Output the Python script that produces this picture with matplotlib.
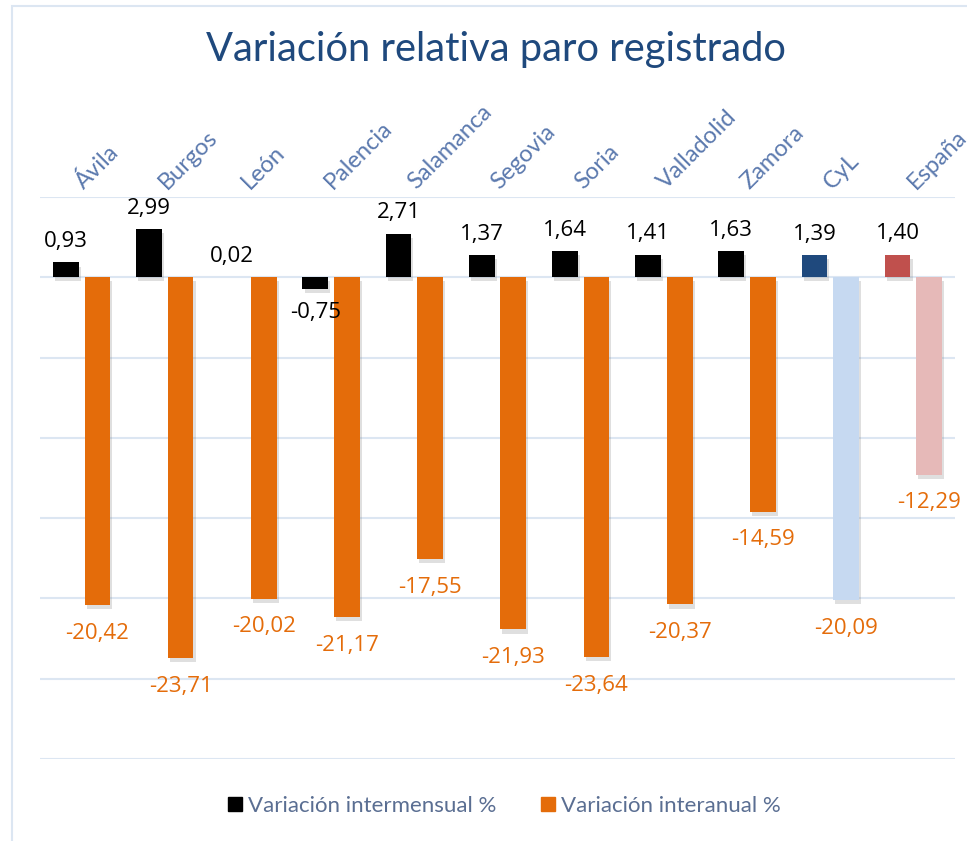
import matplotlib
matplotlib.use("Agg")
import matplotlib.pyplot as plt
import matplotlib.patheffects as pe
import numpy as np
from matplotlib.patches import Rectangle, Patch

# ---------------------------------------------------------------------------
# Data
# ---------------------------------------------------------------------------
categories = ["Ávila", "Burgos", "León", "Palencia", "Salamanca", "Segovia",
              "Soria", "Valladolid", "Zamora", "CyL", "España"]
intermensual = [0.93, 2.99, 0.02, -0.75, 2.71, 1.37, 1.64, 1.41, 1.63, 1.39, 1.40]
interanual = [-20.42, -23.71, -20.02, -21.17, -17.55, -21.93, -23.64,
              -20.37, -14.59, -20.09, -12.29]

# colours (CyL and España highlighted)
BLACK = "#000000"
ORANGE = "#E46C0A"
c_mes = [BLACK] * 9 + ["#1F497D", "#C0504D"]
c_anual = [ORANGE] * 9 + ["#C6D9F1", "#E6B9B8"]
TITLE_C = "#1F497D"
LABEL_C = "#5B79AE"
LEGEND_C = "#5A6E92"
GRID_C = "#DCE6F2"

plt.rcParams["font.family"] = ["Lato", "DejaVu Sans"]
NUM_FONT = ["Open Sans", "DejaVu Sans"]


def fmt(v):
    return f"{v:.2f}".replace(".", ",")


fig = plt.figure(figsize=(9.67, 8.41), dpi=100)
ax = fig.add_axes([40 / 967, 1 - 759 / 841, 915 / 967, (759 - 197) / 841])

x = np.arange(len(categories))
w = 0.31
off = 0.19
shadow = [pe.SimplePatchShadow(offset=(1.5, -3), alpha=0.22, shadow_rgbFace="#707070"),
          pe.Normal()]

b1 = ax.bar(x - off, intermensual, w, color=c_mes, zorder=3)
b2 = ax.bar(x + off, interanual, w, color=c_anual, zorder=3)
for b in list(b1) + list(b2):
    b.set_path_effects(shadow)

for xi, v in zip(x, intermensual):
    if v >= 0:
        ax.text(xi - off, v + 0.65, fmt(v), ha="center", va="bottom",
                fontsize=16, color="black", family=NUM_FONT)
    else:
        ax.text(xi - off, v - 0.8, fmt(v), ha="center", va="top",
                fontsize=16, color="black", family=NUM_FONT)

for xi, v in zip(x, interanual):
    ax.text(xi + off, v - 1.1, fmt(v), ha="center", va="top",
            fontsize=16, color=ORANGE, family=NUM_FONT)

ax.set_xlim(-0.5, len(categories) - 0.5)
ax.set_ylim(-30, 5)
ax.set_yticks(np.arange(-30, 6, 5))
ax.yaxis.grid(True, color=GRID_C, linewidth=1.5, zorder=0)
ax.tick_params(left=False, bottom=False, labelleft=False, labelbottom=False)
for s in ax.spines.values():
    s.set_visible(False)

# category labels along the top, rotated
for xi, name in zip(x, categories):
    ax.text(xi + 0.06, 1.008, name, transform=ax.get_xaxis_transform(),
            rotation=45, rotation_mode="anchor", ha="left", va="bottom",
            fontsize=17, color=LABEL_C)

fig.text(0.513, 1 - 50 / 841, "Variación relativa paro registrado",
         ha="center", va="center", fontsize=28.7, color=TITLE_C)

handles = [Patch(color=BLACK, label="Variación intermensual %"),
           Patch(color=ORANGE, label="Variación interanual %")]
fig.legend(handles=handles, loc="center", bbox_to_anchor=(0.522, 1 - 806 / 841),
           ncol=2, frameon=False, handlelength=0.6, handleheight=0.6,
           handletextpad=0.3, columnspacing=2.0, labelcolor=LEGEND_C,
           prop={"size": 16})

# light chart border
fig.patches.append(Rectangle((12 / 967, -0.05), 1.0, 1 - 6 / 841 + 0.05,
                             transform=fig.transFigure, fill=False,
                             edgecolor=GRID_C, linewidth=1.5))

plt.savefig("out.png", dpi=100)
